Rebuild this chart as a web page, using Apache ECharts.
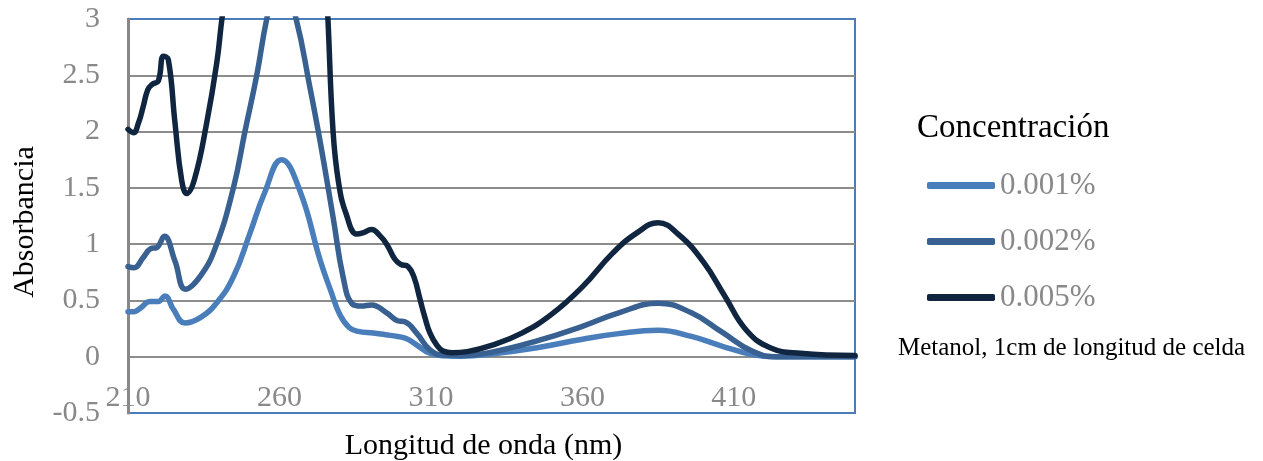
<!DOCTYPE html>
<html>
<head>
<meta charset="utf-8">
<script src="https://cdn.jsdelivr.net/npm/echarts@6/dist/echarts.min.js"></script>
<style>
html,body{margin:0;padding:0;background:#fff;}
#c{width:1263px;height:461px;}
</style>
</head>
<body>
<div id="c"></div>
<script>
// ---- data ----
const seriesNames = ['0.001%', '0.002%', '0.005%'];
const xTickLabels = ['210', '260', '310', '360', '410'];
const yTickLabels = ['-0.5', '0', '0.5', '1', '1.5', '2', '2.5', '3'];

const wl001 = [210, 212, 214, 217.3, 220, 222.2, 225, 228.8, 234, 239.3, 244.8, 250.3, 255, 260.7, 266.8, 273.4, 277, 280, 283, 286, 291, 295, 299, 302, 305, 309.7, 314, 320, 330, 345, 360, 372, 385, 396, 406, 416, 424, 435, 450];
const ab001 = [0.40, 0.40, 0.43, 0.49, 0.49, 0.54, 0.42, 0.30, 0.35, 0.48, 0.71, 1.10, 1.45, 1.75, 1.47, 0.86, 0.58, 0.37, 0.26, 0.225, 0.21, 0.195, 0.18, 0.16, 0.11, 0.03, 0.008, 0.005, 0.025, 0.08, 0.155, 0.205, 0.235, 0.18, 0.095, 0.02, 0, 0, 0];

const wl002 = [210, 212, 215, 217.5, 219.5, 222, 225.5, 229, 234, 239, 244.8, 248.6, 252.5, 255.8, 260, 265.5, 270, 273.5, 277.7, 281, 284, 287, 290.4, 295.4, 299, 301.4, 305.3, 309.7, 314, 320, 330, 345, 360, 372, 385, 396, 406, 416, 424, 435, 450];
const ab002 = [0.80, 0.79, 0.88, 0.96, 0.97, 1.07, 0.85, 0.60, 0.72, 0.98, 1.5, 2.0, 2.5, 3.0, 3.45, 3.0, 2.4, 1.9, 1.24, 0.71, 0.47, 0.45, 0.46, 0.39, 0.32, 0.31, 0.21, 0.06, 0.015, 0.01, 0.04, 0.14, 0.27, 0.39, 0.475, 0.39, 0.22, 0.05, 0, 0, 0];

const wl005 = [210, 211.8, 213.5, 215, 216.5, 218, 220, 221.7, 223.3, 225.5, 227.7, 229.4, 232, 236, 239.3, 241, 244, 250, 260, 268, 272, 274.5, 276, 277.7, 279.5, 282, 285.5, 287.5, 290.4, 293, 295.4, 298, 300, 302.5, 304.5, 306.4, 308, 309.7, 312, 314, 317, 322, 330, 340, 350, 360, 370, 378, 385, 392, 400, 407, 414, 422, 432, 450];
const ab005 = [2.02, 1.99, 2.08, 2.22, 2.37, 2.42, 2.45, 2.67, 2.64, 2.08, 1.57, 1.45, 1.58, 2.08, 2.61, 3.0, 3.6, 5.0, 6.5, 5.5, 4.5, 3.8, 3.0, 2.0, 1.55, 1.27, 1.09, 1.1, 1.13, 1.08, 1.0, 0.87, 0.82, 0.80, 0.70, 0.51, 0.35, 0.21, 0.10, 0.05, 0.035, 0.045, 0.10, 0.21, 0.38, 0.62, 0.92, 1.10, 1.19, 1.08, 0.84, 0.54, 0.24, 0.08, 0.03, 0.01];

// ---- chart ----
const FONT = 'Liberation Serif';
const colors = ['#4a7ebb', '#386090', '#10253f'];
const pairs = (xs, ys) => xs.map((x, i) => [x, ys[i]]);
const allData = [pairs(wl001, ab001), pairs(wl002, ab002), pairs(wl005, ab005)];

const chart = echarts.init(document.getElementById('c'), null, {renderer: 'canvas'});
chart.setOption({
  backgroundColor: '#ffffff',
  animation: false,
  grid: {
    left: 128, top: 19, width: 727, height: 394,
    outerBoundsMode: 'none', containLabel: false,
    show: true, borderColor: '#4a7ebb', borderWidth: 2, backgroundColor: 'transparent'
  },
  xAxis: {
    type: 'value', min: 210, max: 450, interval: 50,
    axisLine: {show: false},
    axisTick: {show: false},
    splitLine: {show: false},
    axisLabel: {
      inside: true, margin: 0, showMaxLabel: false,
      color: '#898989', fontFamily: FONT, fontSize: 30,
      formatter: v => xTickLabels.includes(String(v)) ? String(v) : ''
    },
    name: 'Longitud de onda (nm)', nameLocation: 'middle', nameGap: 18,
    nameTextStyle: {color: '#000', fontFamily: FONT, fontSize: 30, padding: [0, 16, 0, 0]}
  },
  yAxis: {
    type: 'value', min: -0.5, max: 3, interval: 0.5,
    axisLine: {show: true, lineStyle: {color: '#888888', width: 3}},
    axisTick: {show: false},
    splitLine: {show: true, showMinLine: false, showMaxLine: false, lineStyle: {color: '#8c8c8c', width: 2}},
    axisLabel: {
      margin: 28, color: '#898989', fontFamily: FONT, fontSize: 30,
      formatter: v => { const s = String(v); return yTickLabels.includes(s) ? s : ''; }
    }
  },
  legend: {
    orient: 'vertical', left: 927, top: 170, padding: 0,
    icon: 'roundRect', itemWidth: 68, itemHeight: 7, itemGap: 25,
    textStyle: {color: '#898989', fontFamily: FONT, fontSize: 31, lineHeight: 31},
    data: seriesNames
  },
  graphic: [
    {type: 'text', x: 25, y: 222, rotation: Math.PI / 2,
     style: {text: 'Absorbancia', fill: '#000', font: '30px "Liberation Serif"', textAlign: 'center', textVerticalAlign: 'middle'}},
    {type: 'text', left: 917, top: 112, style: {text: 'Concentración', fill: '#000', font: '33px "Liberation Serif"'}},
    {type: 'text', left: 898, top: 336, style: {text: 'Metanol, 1cm de longitud de celda', fill: '#000', font: '25px "Liberation Serif"'}}
  ],
  series: seriesNames.map((n, i) => ({
    name: n, type: 'line', data: allData[i],
    showSymbol: false, symbol: 'none',
    smooth: 0.45, clip: true,
    color: colors[i],
    lineStyle: {color: colors[i], width: 5.5, cap: 'round', join: 'round'},
    z: 2 + i
  }))
});
</script>
</body>
</html>
